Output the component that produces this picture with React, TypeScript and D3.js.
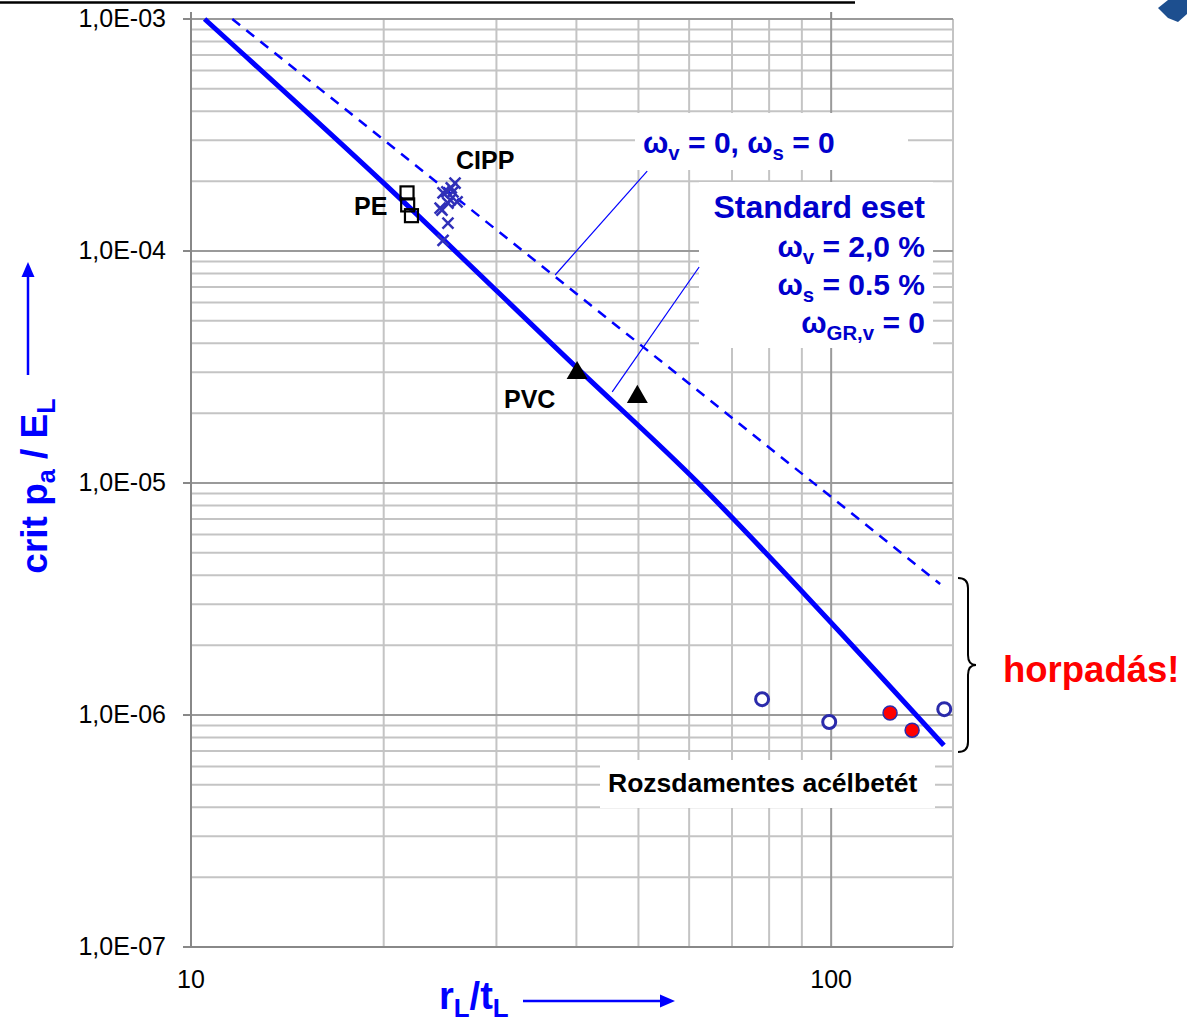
import React from "react";
import * as d3 from "d3";

// ---- data ----
const solidX = [10.5, 20, 40, 62, 100, 150];
const solidY = [1.0e-3, 1.96e-4, 3.15e-5, 1.0e-5, 2.5e-6, 7.4e-7];
const dashX = [11.6, 148];
const dashY = [1.0e-3, 3.67e-6];

const peX = [21.75, 21.8, 22.1];
const peY = [1.78e-4, 1.58e-4, 1.42e-4];

const cippX = [25.85, 24.76, 25.66, 25.4, 26.04, 24.66, 25.2, 25.2, 24.76, 24.5, 25.1, 25.5];
const cippY = [1.96e-4, 1.78e-4, 1.8e-4, 1.66e-4, 1.63e-4, 1.5e-4, 1.61e-4, 1.32e-4, 1.11e-4, 1.53e-4, 1.8e-4, 1.87e-4];

const pvcX = [40.1, 49.8];
const pvcY = [2.98e-5, 2.35e-5];

const steelOpenX = [78.0, 99.3, 150.2];
const steelOpenY = [1.17e-6, 9.33e-7, 1.06e-6];
const steelRedX = [123.6, 133.8];
const steelRedY = [1.02e-6, 8.6e-7];

const yTickValues = [1e-3, 1e-4, 1e-5, 1e-6, 1e-7];
const yTickLabels = ["1,0E-03", "1,0E-04", "1,0E-05", "1,0E-06", "1,0E-07"];
const xTickValues = [10, 100];
const xTickLabels = ["10", "100"];
const xMinorGrid = [20, 30, 40, 50, 60, 70, 80, 90];

// leader lines (data coordinates)
const leaderX1 = [37.05, 45.5];
const leaderY1 = [7.88e-5, 2.47e-5];
const leaderX2 = [51.6, 62.2];
const leaderY2 = [2.21e-4, 8.53e-5];

const FONT = "'Liberation Sans', Arial, sans-serif";
const BLUE = "#0000ff";
const TBLUE = "#0000cc";
const MARK = "#2b2bab";

type Part = { t: string; s?: boolean };

function Rich({ parts, fs }: { parts: Part[]; fs: number }) {
  const off = fs * 0.22;
  let prevSub = false;
  return (
    <>
      {parts.map((p, i) => {
        let dy = 0;
        if (p.s && !prevSub) dy = off;
        else if (!p.s && prevSub) dy = -off;
        prevSub = !!p.s;
        return (
          <tspan key={i} dy={dy} fontSize={p.s ? fs * 0.68 : fs}>
            {p.t}
          </tspan>
        );
      })}
    </>
  );
}

export default function App() {
  const W = 1187, H = 1021;
  const x = d3.scaleLog().domain([10, 155]).range([191, 953]);
  const y = d3.scaleLog().domain([1e-7, 1e-3]).range([947, 19]);

  const yMinor: number[] = [];
  [1e-7, 1e-6, 1e-5, 1e-4].forEach((d) => {
    for (let k = 2; k <= 9; k++) yMinor.push(k * d);
  });

  const line = d3
    .line<[number, number]>()
    .x((d) => x(d[0]))
    .y((d) => y(d[1]))
    .curve(d3.curveMonotoneX);
  const solidPts = solidX.map((v, i) => [v, solidY[i]] as [number, number]);
  const dashPts = dashX.map((v, i) => [v, dashY[i]] as [number, number]);

  const tri = d3.symbol().type(d3.symbolTriangle).size(190)() as string;

  return (
    <svg
      width={W}
      height={H}
      style={{ position: "absolute", left: 0, top: 0, background: "#fff" }}
      fontFamily={FONT}
    >
      <rect x={0} y={0} width={W} height={H} fill="#fff" />
      {/* header line and logo */}
      <line x1={0} x2={855} y1={2.5} y2={2.5} stroke="#000" strokeWidth={2.5} />
      <polygon points="1158,8 1168,0 1187,0 1187,14 1178,22 1168,18" fill="#1d4f8f" />

      {/* grid */}
      {yMinor.map((v, i) => (
        <line key={"ym" + i} x1={x(10)} x2={x(155)} y1={y(v)} y2={y(v)} stroke="#c4c4c4" strokeWidth={2} />
      ))}
      {xMinorGrid.map((v, i) => (
        <line key={"xm" + i} x1={x(v)} x2={x(v)} y1={y(1e-3)} y2={y(1e-7)} stroke="#c4c4c4" strokeWidth={2} />
      ))}
      <line x1={x(155)} x2={x(155)} y1={y(1e-3)} y2={y(1e-7)} stroke="#c4c4c4" strokeWidth={2} />
      {yTickValues.map((v, i) => (
        <line key={"yM" + i} x1={x(10)} x2={x(155)} y1={y(v)} y2={y(v)} stroke="#9a9a9a" strokeWidth={2} />
      ))}
      <line x1={x(100)} x2={x(100)} y1={y(1e-3)} y2={y(1e-7)} stroke="#9a9a9a" strokeWidth={2} />
      {/* axes */}
      <line x1={x(10)} x2={x(10)} y1={y(1e-3) - 7} y2={y(1e-7)} stroke="#888" strokeWidth={2} />
      <line x1={x(100)} x2={x(100)} y1={y(1e-3) - 7} y2={y(1e-3)} stroke="#888" strokeWidth={2} />
      <line x1={x(10)} x2={x(155)} y1={y(1e-7)} y2={y(1e-7)} stroke="#888" strokeWidth={2} />
      {yTickValues.map((v, i) => (
        <line key={"yt" + i} x1={x(10) - 8} x2={x(10)} y1={y(v)} y2={y(v)} stroke="#888" strokeWidth={2} />
      ))}

      {/* tick labels */}
      {yTickValues.map((v, i) => (
        <text key={"yl" + i} x={166} y={y(v) + 8} textAnchor="end" fontSize={25} fill="#000">
          {yTickLabels[i]}
        </text>
      ))}
      {xTickValues.map((v, i) => (
        <text key={"xl" + i} x={x(v)} y={988} textAnchor="middle" fontSize={25} fill="#000">
          {xTickLabels[i]}
        </text>
      ))}

      {/* label boxes */}
      <rect x={635} y={113} width={273} height={57} fill="#fff" />
      <rect x={699} y={182} width={234} height={166} fill="#fff" />
      <rect x={600} y={760} width={335} height={48} fill="#fff" />

      {/* leader lines */}
      {leaderX1.map((v, i) => (
        <line key={"ld" + i} x1={x(v)} y1={y(leaderY1[i])} x2={x(leaderX2[i])} y2={y(leaderY2[i])} stroke={BLUE} strokeWidth={1.2} />
      ))}

      {/* curves */}
      <path d={line(dashPts) || ""} fill="none" stroke={BLUE} strokeWidth={2.5} strokeDasharray="10,8" />
      <path d={line(solidPts) || ""} fill="none" stroke={BLUE} strokeWidth={5} />

      {/* markers */}
      {peX.map((v, i) => (
        <rect key={"pe" + i} x={x(v) - 6.5} y={y(peY[i]) - 6.5} width={13} height={13} fill="none" stroke="#000" strokeWidth={2.2} />
      ))}
      {cippX.map((v, i) => {
        const cx = x(v), cy = y(cippY[i]);
        return (
          <path key={"ci" + i} d={`M${cx - 5.5},${cy - 5.5}L${cx + 5.5},${cy + 5.5}M${cx - 5.5},${cy + 5.5}L${cx + 5.5},${cy - 5.5}`} stroke="#3030b8" strokeWidth={2.5} />
        );
      })}
      {pvcX.map((v, i) => (
        <path key={"pv" + i} d={tri} transform={`translate(${x(v)},${y(pvcY[i])})`} fill="#000" />
      ))}
      {steelOpenX.map((v, i) => (
        <circle key={"so" + i} cx={x(v)} cy={y(steelOpenY[i])} r={6.5} fill="#fff" stroke={MARK} strokeWidth={3} />
      ))}
      {steelRedX.map((v, i) => (
        <circle key={"sr" + i} cx={x(v)} cy={y(steelRedY[i])} r={7} fill="#ff0000" stroke={MARK} strokeWidth={1.5} />
      ))}

      {/* text labels */}
      <text x={456} y={169} fontSize={25} fontWeight="bold" fill="#000">CIPP</text>
      <text x={354} y={215} fontSize={25} fontWeight="bold" fill="#000">PE</text>
      <text x={504} y={408} fontSize={25} fontWeight="bold" fill="#000">PVC</text>
      <text x={608} y={792} fontSize={26.5} fontWeight="bold" fill="#000">Rozsdamentes acélbetét</text>
      <text x={1003} y={682} fontSize={36.5} fontWeight="bold" fill="#ff0000">horpadás!</text>

      <text x={643} y={153} fontSize={30} fontWeight="bold" fill={TBLUE}>
        <Rich fs={30} parts={[{ t: "ω" }, { t: "v", s: true }, { t: " = 0, ω" }, { t: "s", s: true }, { t: " = 0" }]} />
      </text>
      <text x={925} y={218} fontSize={32} fontWeight="bold" fill={TBLUE} textAnchor="end">Standard eset</text>
      <text x={925} y={257} fontSize={30} fontWeight="bold" fill={TBLUE} textAnchor="end">
        <Rich fs={30} parts={[{ t: "ω" }, { t: "v", s: true }, { t: " = 2,0 %" }]} />
      </text>
      <text x={925} y={295} fontSize={30} fontWeight="bold" fill={TBLUE} textAnchor="end">
        <Rich fs={30} parts={[{ t: "ω" }, { t: "s", s: true }, { t: " = 0.5 %" }]} />
      </text>
      <text x={925} y={333} fontSize={30} fontWeight="bold" fill={TBLUE} textAnchor="end">
        <Rich fs={30} parts={[{ t: "ω" }, { t: "GR,v", s: true }, { t: " = 0" }]} />
      </text>

      {/* bracket */}
      <path
        d="M958,578 Q968,578 968,588 L968,655 Q968,665 976,665 Q968,665 968,675 L968,742 Q968,752 958,752"
        fill="none"
        stroke="#000"
        strokeWidth={2}
      />

      {/* axis titles */}
      <text x={439} y={1009} fontSize={38} fontWeight="bold" fill={BLUE}>
        <Rich fs={38} parts={[{ t: "r" }, { t: "L", s: true }, { t: "/t" }, { t: "L", s: true }]} />
      </text>
      <line x1={523} x2={662} y1={1001} y2={1001} stroke={BLUE} strokeWidth={2.5} />
      <path d="M675,1001 L660,994.5 L660,1007.5 Z" fill={BLUE} />

      <text transform="translate(47,486) rotate(-90)" textAnchor="middle" fontSize={37} fontWeight="bold" fill={BLUE}>
        <Rich fs={37} parts={[{ t: "crit p" }, { t: "a", s: true }, { t: " / E" }, { t: "L", s: true }]} />
      </text>
      <line x1={28} x2={28} y1={375} y2={275} stroke={BLUE} strokeWidth={2.5} />
      <path d="M28,262 L21.5,277 L34.5,277 Z" fill={BLUE} />
    </svg>
  );
}
